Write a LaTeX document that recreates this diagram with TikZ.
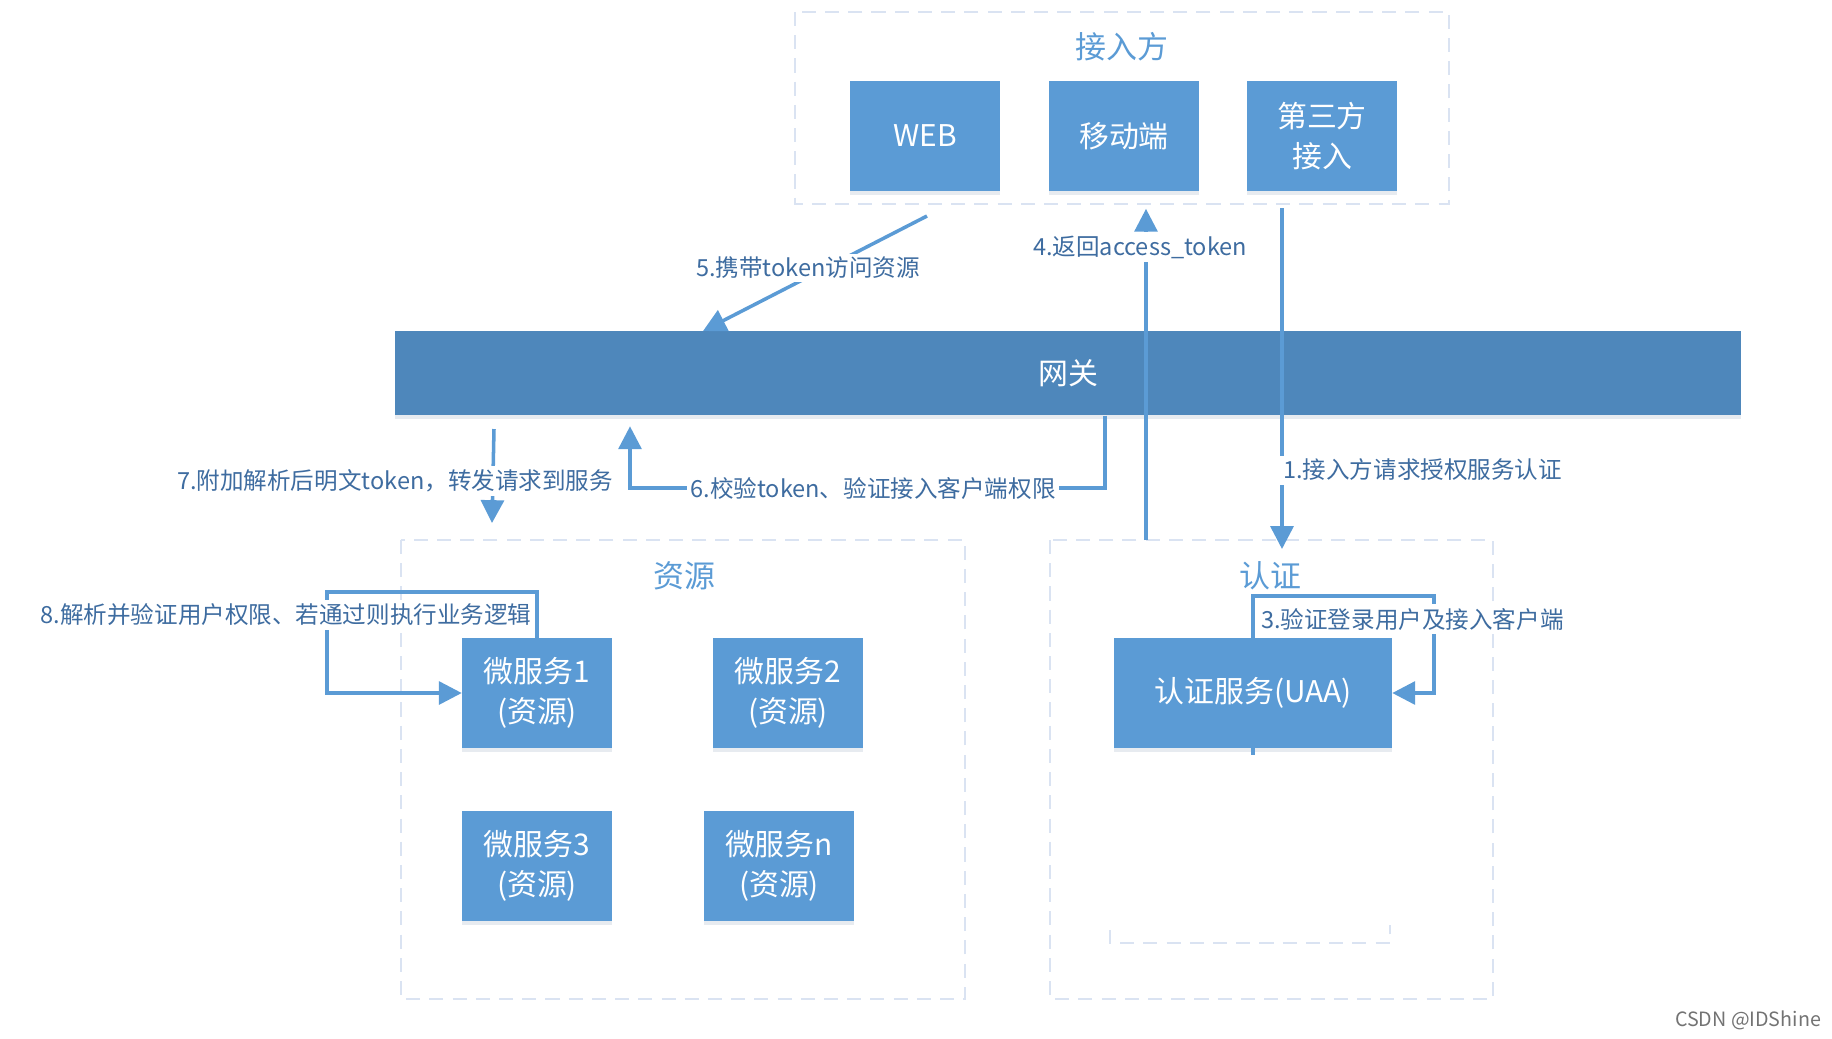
\documentclass[tikz,border=0pt]{standalone}
\usepackage{fontspec}
\setmainfont{Noto Sans CJK SC}
\usetikzlibrary{arrows.meta,shadows}

\definecolor{boxblue}{RGB}{91,155,213}
\definecolor{gateblue}{RGB}{78,135,187}
\definecolor{lineblue}{RGB}{91,155,213}
\definecolor{labelblue}{RGB}{62,108,160}
\definecolor{dashgray}{RGB}{218,227,242}

\tikzset{
  svcbox/.style={fill=boxblue, text=white, align=center, minimum width=1.49cm, minimum height=1.09cm,
    font=\fontsize{8.5pt}{11.5pt}\selectfont, inner sep=1pt,
    drop shadow={shadow xshift=0pt, shadow yshift=-1.2pt, opacity=0.12, fill=boxblue!60!black}},
  groupbox/.style={draw=dashgray, line width=0.6pt, dash pattern=on 4pt off 2.6pt},
  grouptitle/.style={text=boxblue, font=\fontsize{8.8pt}{10pt}\selectfont},
  flow/.style={draw=lineblue, line width=1pt, -{Triangle[length=6.5pt,width=6.5pt]}},
  flowlabel/.style={fill=white, text=labelblue, inner sep=1pt, font=\fontsize{6.7pt}{8pt}\selectfont}
}

\begin{document}
\begin{tikzpicture}[x=0.01cm, y=-0.01cm]
  \useasboundingbox (0,0) rectangle (1832,1038);

  % group frames
  \draw[groupbox] (795,12) rectangle (1449,204);
  \draw[groupbox] (401,540) rectangle (965,999);
  \draw[groupbox] (1050,540) rectangle (1493,999);
  \draw[groupbox] (1110,930) -- (1110,943) -- (1390,943) -- (1390,925);
  \node[grouptitle] (tclient) at (1122,47) {接入方};
  \node[grouptitle] (tres) at (684,576) {资源};
  \node[grouptitle] (tauth) at (1270,576) {认证};

  % clients
  \node[svcbox] (web) at (925,136) {WEB};
  \node[svcbox] (mobile) at (1124,136) {移动端};
  \node[svcbox] (third) at (1322,136) {第三方\\接入};

  % gateway
  \node[svcbox, fill=gateblue, minimum width=13.46cm, minimum height=0.84cm] (gw) at (1068,373) {网关};

  % resource services
  \node[svcbox] (ms1) at (537,693) {微服务1\\(资源)};
  \node[svcbox] (ms2) at (788,693) {微服务2\\(资源)};
  \node[svcbox] (ms3) at (537,866) {微服务3\\(资源)};
  \node[svcbox] (msn) at (779,866) {微服务n\\(资源)};

  % auth service
  \node[svcbox, minimum width=2.77cm] (uaa) at (1253,693) {认证服务(UAA)};
  \draw[draw=lineblue, line width=1pt] (uaa.south) -- ++(0,7);

  % bend points
  \coordinate (s5) at (927,216);
  \coordinate (t5) at (703,331);
  \coordinate (s4) at (1146,540);
  \coordinate (s1) at (1282,208);
  \coordinate (t1) at (1282,549);
  \coordinate (b6) at (1105,488);
  \coordinate (c6) at (630,488);
  \coordinate (s7) at (494,429);
  \coordinate (t7) at (492,523);
  \coordinate (b3a) at (1253,596);
  \coordinate (b3b) at (1434,693);
  \coordinate (b8a) at (537,592);
  \coordinate (b8b) at (327,693);

  % connectors
  \draw[flow] (s1) -- (t1);
  \draw[flow] (uaa.north) -- (b3a) -| (b3b) -- (uaa.east);
  \draw[flow, shorten >=5pt] (s4) -- (mobile.south -| s4);
  \draw[flow] (s5) -- (t5);
  \draw[flow, shorten >=3pt] (gw.south -| b6) |- (c6) -- (gw.south -| c6);
  \draw[flow] (s7) -- (t7);
  \draw[flow] (ms1.north) -- (b8a) -| (b8b) -- (ms1.west);

  % labels
  \node[flowlabel, anchor=west] (l1) at (1279,470) {1.接入方请求授权服务认证};
  \node[flowlabel, anchor=west] (l3) at (1257,619) {3.验证登录用户及接入客户端};
  \node[flowlabel] (l4) at (1140,247) {4.返回access\_token};
  \node[flowlabel] (l5) at (808,268) {5.携带token访问资源};
  \node[flowlabel] (l6) at (873,488) {6.校验token、验证接入客户端权限};
  \node[flowlabel] (l7) at (395,481) {7.附加解析后明文token，转发请求到服务};
  \node[flowlabel] (l8) at (286,615) {8.解析并验证用户权限、若通过则执行业务逻辑};

  % watermark
  \node[text=black!55, font=\fontsize{5.6pt}{7pt}\selectfont] (wm) at (1748,1020) {CSDN @IDShine};
\end{tikzpicture}
\end{document}
